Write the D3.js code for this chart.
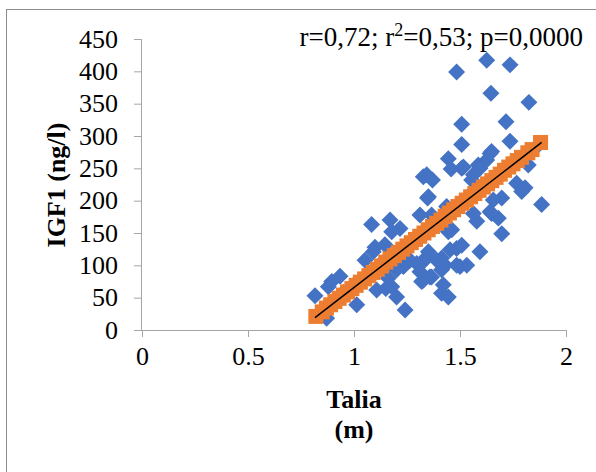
<!DOCTYPE html>
<html>
<head>
<meta charset="utf-8">
<script src="https://cdn.jsdelivr.net/npm/d3@7"></script>
<style>
  html, body { margin: 0; padding: 0; background: #ffffff; }
  svg { display: block; }
</style>
</head>
<body>
<svg id="chart" width="596" height="472"></svg>
<script>
// ---- data ----
const xTickValues = [0, 0.5, 1, 1.5, 2];
const yTickValues = [0, 50, 100, 150, 200, 250, 300, 350, 400, 450];

// blue diamonds: observed [Talia (m), IGF1 (ng/l)]
const observedTalia = [
  1.484, 1.626, 1.736, 1.646, 1.825, 1.508, 1.717, 1.508, 1.736, 1.649,
  1.445, 1.508, 1.458, 1.586, 1.626, 1.563, 1.822, 1.767, 1.807, 1.555,
  1.327, 1.370, 1.347, 1.885, 1.445, 1.579, 1.649, 1.681, 1.697, 1.594,
  1.484, 1.508, 1.429, 1.500, 1.532, 1.421, 1.445, 1.791, 1.697, 1.657,
  1.563, 1.437, 1.642, 1.516, 1.594, 1.642, 1.453, 1.484, 1.413, 1.358,
  1.319, 1.241, 1.201, 1.013, 0.816, 1.083, 1.170, 1.311, 1.217, 1.178,
  1.366, 1.099, 1.146, 1.052, 1.091, 0.934, 0.895, 0.879, 0.871, 1.107,
  1.150, 1.178, 1.131, 1.162, 1.233, 1.264, 1.327, 1.351, 1.366, 1.327,
  1.413, 1.413, 1.413, 1.311, 1.201, 1.296, 1.343, 1.390, 1.461, 1.343,
  1.351, 0.950, 1.000, 1.050, 1.120, 1.250, 1.400, 1.550, 1.700, 1.850
];
const observedIGF1 = [
  399, 417, 410, 366, 352, 318, 322, 287, 292, 276,
  265, 250, 249, 255, 263, 240, 255, 227, 220, 232,
  237, 232, 204, 194, 152, 168, 180, 173, 149, 121,
  126, 131, 100, 98, 100, 70, 51, 214, 204, 201,
  180, 191, 273, 252, 250, 183, 124, 100, 103, 82,
  75, 31, 51, 39, 53, 163, 170, 178, 157, 152,
  178, 128, 132, 108, 121, 83, 75, 67, 18, 62,
  64, 67, 95, 80, 98, 108, 106, 121, 82, 77,
  93, 57, 111, 90, 93, 103, 113, 108, 155, 240,
  206, 58, 70, 80, 100, 130, 170, 210, 245, 280
];

// orange squares: predicted values on the regression line
const predictedTalia = [
  0.82, 0.85, 0.87, 0.89, 0.91, 0.93, 0.95, 0.97, 0.99, 1.01,
  1.03, 1.05, 1.07, 1.09, 1.11, 1.13, 1.15, 1.17, 1.19, 1.21,
  1.23, 1.25, 1.27, 1.29, 1.31, 1.33, 1.35, 1.37, 1.39, 1.41,
  1.43, 1.45, 1.47, 1.49, 1.51, 1.53, 1.55, 1.57, 1.59, 1.61,
  1.63, 1.65, 1.67, 1.69, 1.71, 1.73, 1.75, 1.77, 1.79, 1.82,
  1.84, 1.88
];
const predictedIGF1 = [
  21, 28, 34, 39, 44, 49, 54, 59, 64, 69,
  74, 79, 84, 89, 94, 99, 105, 110, 115, 120,
  125, 130, 135, 140, 145, 150, 155, 160, 165, 170,
  176, 181, 186, 191, 196, 201, 206, 211, 216, 221,
  226, 231, 236, 241, 247, 252, 257, 262, 267, 274,
  279, 290
];

// trend line end points
const trendTalia = [0.816, 1.885];
const trendIGF1 = [19, 290];

const annotationParts = ["r=0,72; r", "2", "=0,53; p=0,0000"];
const xTitleLines = ["Talia", "(m)"];
const yTitle = "IGF1 (ng/l)";

// ---- drawing ----
const svg = d3.select("#chart");
const serif = "'Liberation Serif', 'Times New Roman', serif";
const axisGray = "#a6a6a6";

// outer frame
svg.append("rect")
  .attr("x", 6.5).attr("y", 9.5)
  .attr("width", 620).attr("height", 500)
  .attr("fill", "none").attr("stroke", "#8c8c8c").attr("stroke-width", 1);

const x = d3.scaleLinear().domain([0, 2]).range([142, 566]);
const y = d3.scaleLinear().domain([0, 450]).range([330, 39]);

// y axis
const yAxis = d3.axisLeft(y).tickValues(yTickValues).tickSize(8).tickPadding(16)
  .tickFormat(d3.format("d"));
const gy = svg.append("g").attr("transform", "translate(142,0)").call(yAxis);
gy.select(".domain").attr("stroke", axisGray).attr("d", `M-0.5,${y(450)}V${y(0)}`);
gy.selectAll(".tick line").attr("stroke", axisGray);
gy.selectAll(".tick text")
  .attr("font-family", serif).attr("font-size", 26).attr("fill", "#000");

// x axis
const xAxis = d3.axisBottom(x).tickValues(xTickValues).tickSize(7).tickPadding(10)
  .tickFormat(d => String(d));
const gx = svg.append("g").attr("transform", "translate(0,330)").call(xAxis);
gx.select(".domain").attr("stroke", axisGray).attr("d", `M${x(0)},0.5H${x(2)}`);
gx.selectAll(".tick line").attr("stroke", axisGray);
gx.selectAll(".tick text")
  .attr("font-family", serif).attr("font-size", 26).attr("fill", "#000");

// observed points (diamonds)
const observed = observedTalia.map((t, i) => ({ t, v: observedIGF1[i] }));
const diamond = d3.symbol().type(d3.symbolSquare).size(144);
svg.append("g").selectAll("path").data(observed).join("path")
  .attr("d", diamond)
  .attr("transform", d => `translate(${x(d.t)},${y(d.v)}) rotate(45)`)
  .attr("fill", "#4472C4");

// predicted points (squares)
const predicted = predictedTalia.map((t, i) => ({ t, v: predictedIGF1[i] }));
const square = d3.symbol().type(d3.symbolSquare).size(225);
svg.append("g").selectAll("path").data(predicted).join("path")
  .attr("d", square)
  .attr("transform", d => `translate(${x(d.t)},${y(d.v)})`)
  .attr("fill", "#ED7D31");

// trend line
const trend = trendTalia.map((t, i) => ({ t, v: trendIGF1[i] }));
svg.append("path").datum(trend)
  .attr("d", d3.line().x(d => x(d.t)).y(d => y(d.v)))
  .attr("stroke", "#000").attr("stroke-width", 1.5).attr("fill", "none");

// annotation
const ann = svg.append("text")
  .attr("x", 583).attr("y", 46).attr("text-anchor", "end")
  .attr("font-family", serif).attr("font-size", 27).attr("fill", "#000");
ann.append("tspan").text(annotationParts[0]);
ann.append("tspan").attr("font-size", 18).attr("dy", -10).text(annotationParts[1]);
ann.append("tspan").attr("dy", 10).text(annotationParts[2]);

// x title
svg.append("text")
  .attr("x", 354).attr("y", 408).attr("text-anchor", "middle")
  .attr("font-family", serif).attr("font-size", 26).attr("font-weight", "bold")
  .attr("fill", "#000")
  .selectAll("tspan").data(xTitleLines).join("tspan")
  .attr("x", 354).attr("dy", (d, i) => i === 0 ? 0 : 30).text(d => d);

// y title
svg.append("text")
  .attr("transform", "translate(65,185) rotate(-90)")
  .attr("text-anchor", "middle")
  .attr("font-family", serif).attr("font-size", 26).attr("font-weight", "bold")
  .attr("fill", "#000").text(yTitle);
</script>
</body>
</html>
